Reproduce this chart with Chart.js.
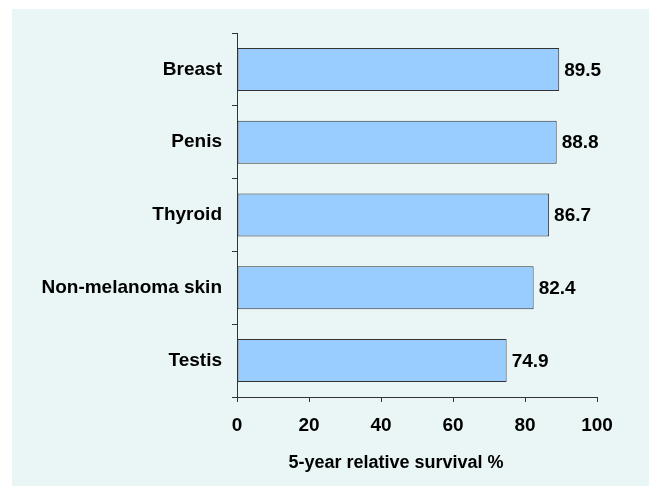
<!DOCTYPE html>
<html lang="en">

<head>
    <meta charset="UTF-8" />
    <title>5-year relative survival</title>
    <style>
        body { margin: 0; background: #ffffff; }
        #panel { position: absolute; left: 12px; top: 9px; width: 637px; height: 477px; background: #eaf6f6; }
    </style>
</head>

<body>
    <div id="panel">
        <canvas id="chart" width="637" height="477"></canvas>
    </div>
</body>

<script src="https://cdn.jsdelivr.net/npm/chart.js"></script>

<script>
    const sites = ['Breast', 'Penis', 'Thyroid', 'Non-melanoma skin', 'Testis'];
    const survival = [89.5, 88.8, 86.7, 82.4, 74.9];
    const xTicks = [0, 20, 40, 60, 80, 100];
    const xTitle = '5-year relative survival %';

    Chart.defaults.font.family = '"Liberation Sans", Arial, sans-serif';
    Chart.defaults.color = '#000000';

    // value labels at the end of each bar
    const valueLabels = {
        id: 'valueLabels',
        afterDatasetsDraw(chart) {
            const ctx = chart.ctx;
            const meta = chart.getDatasetMeta(0);
            ctx.save();
            ctx.font = 'bold 19px "Liberation Sans", Arial, sans-serif';
            ctx.fillStyle = '#000000';
            ctx.textAlign = 'left';
            ctx.textBaseline = 'middle';
            meta.data.forEach((bar, i) => {
                ctx.fillText(survival[i].toFixed(1), bar.x + 5, bar.y + 1);
            });
            ctx.restore();
        }
    };

    // axis title sits a bit left of the axis centre in the original
    const axisTitle = {
        id: 'axisTitle',
        afterDraw(chart) {
            const ctx = chart.ctx;
            const x = chart.scales.x;
            ctx.save();
            ctx.font = 'bold 18px "Liberation Sans", Arial, sans-serif';
            ctx.fillStyle = '#000000';
            ctx.textAlign = 'center';
            ctx.textBaseline = 'middle';
            ctx.fillText(xTitle, (x.left + x.right) / 2 - 21, x.bottom - 23);
            ctx.restore();
        }
    };

    const ctx = document.getElementById('chart').getContext('2d');
    new Chart(ctx, {
        type: 'bar',
        data: {
            labels: sites,
            datasets: [{
                data: survival,
                backgroundColor: '#99ccff',
                borderColor: '#333333',
                borderWidth: 1,
                borderSkipped: false,
                categoryPercentage: 1,
                barPercentage: 0.59
            }]
        },
        options: {
            indexAxis: 'y',
            responsive: false,
            animation: false,
            layout: { padding: { top: 24, right: 52, left: 0, bottom: 0 } },
            plugins: {
                legend: { display: false },
                tooltip: { enabled: false }
            },
            scales: {
                x: {
                    min: 0,
                    max: 100,
                    afterFit: s => { s.height = 89; },
                    afterBuildTicks: s => { s.ticks = xTicks.map(v => ({ value: v })); },
                    grid: { drawOnChartArea: false, tickLength: 5, color: '#333333' },
                    border: { color: '#333333' },
                    ticks: { font: { size: 19, weight: 'bold' }, padding: 12 }
                },
                y: {
                    afterFit: s => { s.width = 225; },
                    grid: { drawOnChartArea: false, tickLength: 5, color: '#333333', offset: true },
                    border: { color: '#333333' },
                    ticks: { font: { size: 19, weight: 'bold' }, padding: 10 }
                }
            }
        },
        plugins: [valueLabels, axisTitle]
    });
</script>

</html>
